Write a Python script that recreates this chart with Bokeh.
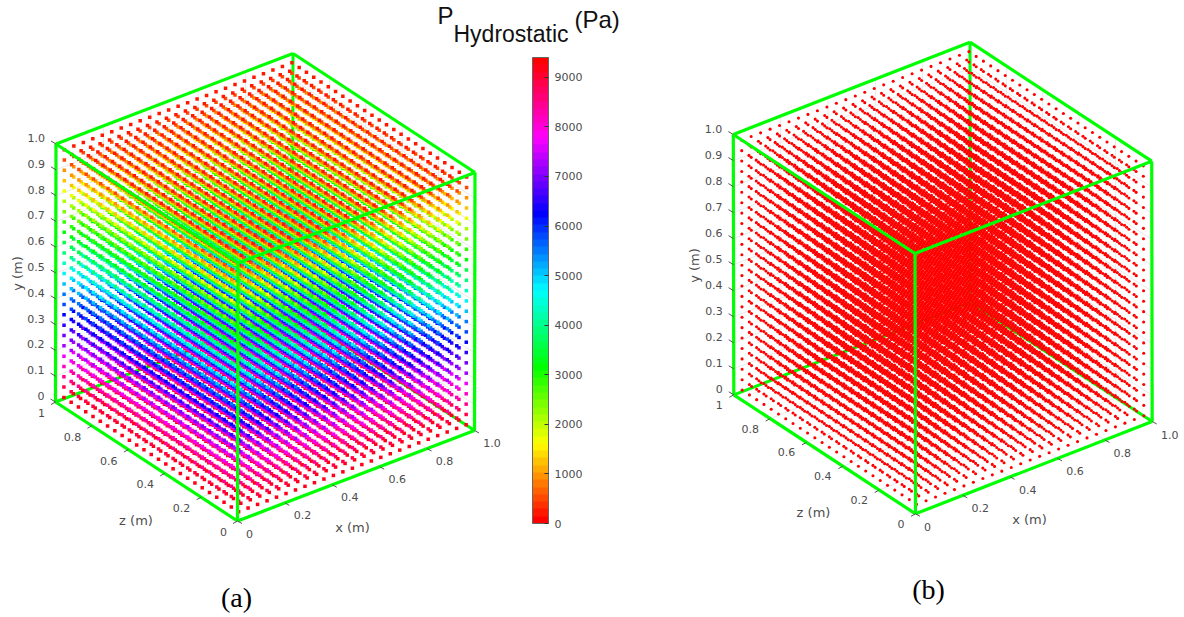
import colorsys
import numpy as np
from bokeh.plotting import figure, ColumnDataSource
from bokeh.models import Range1d, ColorBar, LinearColorMapper, FixedTicker
from bokeh.core.properties import value
from bokeh.embed import file_html
from bokeh.resources import INLINE

# ---- data ----
x_levels = [0.02, 0.06, 0.10, 0.14, 0.18, 0.22, 0.26, 0.30, 0.34, 0.38, 0.42, 0.46, 0.50,
            0.54, 0.58, 0.62, 0.66, 0.70, 0.74, 0.78, 0.82, 0.86, 0.90, 0.94, 0.98]
y_levels = [0.02, 0.06, 0.10, 0.14, 0.18, 0.22, 0.26, 0.30, 0.34, 0.38, 0.42, 0.46, 0.50,
            0.54, 0.58, 0.62, 0.66, 0.70, 0.74, 0.78, 0.82, 0.86, 0.90, 0.94, 0.98]
z_levels = [0.02, 0.06, 0.10, 0.14, 0.18, 0.22, 0.26, 0.30, 0.34, 0.38, 0.42, 0.46, 0.50,
            0.54, 0.58, 0.62, 0.66, 0.70, 0.74, 0.78, 0.82, 0.86, 0.90, 0.94, 0.98]
# pressure of each y level, panel (a)
pressure_a = [9212, 8836, 8460, 8084, 7708, 7332, 6956, 6580, 6204, 5828, 5452, 5076, 4700,
              4324, 3948, 3572, 3196, 2820, 2444, 2068, 1692, 1316, 940, 564, 188]
# panel (b) reads as a single colour: the bottom of the scale
pressure_b = [0, 0, 0, 0, 0, 0, 0, 0, 0, 0, 0, 0, 0,
              0, 0, 0, 0, 0, 0, 0, 0, 0, 0, 0, 0]
x_ticks = [0, 0.2, 0.4, 0.6, 0.8, 1.0]
x_tick_labels = ["0", "0.2", "0.4", "0.6", "0.8", "1.0"]
y_ticks = [0, 0.1, 0.2, 0.3, 0.4, 0.5, 0.6, 0.7, 0.8, 0.9, 1.0]
y_tick_labels = ["0", "0.1", "0.2", "0.3", "0.4", "0.5", "0.6", "0.7", "0.8", "0.9", "1.0"]
z_ticks = [0, 0.2, 0.4, 0.6, 0.8, 1.0]
z_tick_labels = ["0", "0.2", "0.4", "0.6", "0.8", "1"]
cbar_ticks = [0, 1000, 2000, 3000, 4000, 5000, 6000, 7000, 8000, 9000]
cbar_low = 0
cbar_high = 9400

# ---- styles ----
GREEN = "#00ff00"
TICK = "#555555"
LABEL = "#4d4d4d"
GRID = "#e9e9e9"
SANS = value("DejaVu Sans")
palette = []
for i in range(64):
    r, g, b = colorsys.hsv_to_rgb(i / 63, 1, 1)
    palette.append("#%02x%02x%02x" % (round(r * 255), round(g * 255), round(b * 255)))
mapper = LinearColorMapper(palette=palette, low=cbar_low, high=cbar_high)

# the figure's data units are page pixels, so the oblique view maps straight to it
p = figure(width=1184, height=617, output_backend="svg", toolbar_location=None,
           x_range=Range1d(0, 1184), y_range=Range1d(617, 0),
           x_axis_type=None, y_axis_type=None, min_border=0,
           outline_line_color=None, background_fill_color="white")
p.grid.visible = False


def cube(view, pressure, dot_size, dot_marker, y_label_xy, z_label_xy, x_label_xy,
         z_off, x_off):
    ox, oy = view["o"]
    ex, ey, ez = view["x"], view["y"], view["z"]

    def pr(a, b, c):
        a, b, c = np.asarray(a, float), np.asarray(b, float), np.asarray(c, float)
        return ox + a * ex[0] + b * ey[0] + c * ez[0], oy + a * ex[1] + b * ey[1] + c * ez[1]

    def edge(a0, b0, c0, a1, b1, c1, **kw):
        xs, ys = pr([a0, a1], [b0, b1], [c0, c1])
        p.line(list(xs), list(ys), **kw)

    # faint grid on the three back walls
    for t in x_ticks:
        edge(t, 0, 1, t, 1, 1, line_color=GRID, line_width=1)
        edge(t, 0, 0, t, 0, 1, line_color=GRID, line_width=1)
    for t in z_ticks:
        edge(1, 0, t, 1, 1, t, line_color=GRID, line_width=1)
        edge(0, 0, t, 1, 0, t, line_color=GRID, line_width=1)
    for t in y_ticks:
        edge(0, t, 1, 1, t, 1, line_color=GRID, line_width=1)
        edge(1, t, 0, 1, t, 1, line_color=GRID, line_width=1)

    # hidden box edges go beneath the points
    back = dict(line_color=GREEN, line_width=3)
    edge(0, 0, 1, 1, 0, 1, **back)
    edge(1, 0, 1, 1, 0, 0, **back)
    edge(1, 0, 1, 1, 1, 1, **back)

    # points, far ones first
    X, Y, Z = np.meshgrid(x_levels, y_levels, z_levels, indexing="ij")
    P = np.broadcast_to(np.asarray(pressure, float)[None, :, None], X.shape)
    X, Y, Z, P = X.ravel(), Y.ravel(), Z.ravel(), P.ravel()
    order = np.argsort(-0.528 * X + 0.5 * Y - 0.691 * Z, kind="stable")
    sx, sy = pr(X[order], Y[order], Z[order])
    src = ColumnDataSource(dict(sx=sx, sy=sy, p=P[order]))
    p.scatter("sx", "sy", source=src, marker=dot_marker, size=dot_size, line_color=None,
              fill_color={"field": "p", "transform": mapper})

    # visible box edges
    front = dict(line_color=GREEN, line_width=3.2)
    for e in [(0, 0, 0, 1, 0, 0), (0, 0, 0, 0, 0, 1), (0, 0, 0, 0, 1, 0),
              (1, 0, 0, 1, 1, 0), (0, 0, 1, 0, 1, 1),
              (0, 1, 0, 1, 1, 0), (0, 1, 0, 0, 1, 1), (1, 1, 0, 1, 1, 1), (0, 1, 1, 1, 1, 1)]:
        edge(*e, **front)

    # ticks
    def ticks(xs, ys, dx, dy):
        p.segment(list(xs), list(ys), list(xs + dx), list(ys + dy), line_color=TICK, line_width=1)

    ticks(*pr(np.zeros(len(y_ticks)), y_ticks, np.ones(len(y_ticks))), -5, -3)
    ticks(*pr(np.zeros(len(z_ticks)), np.zeros(len(z_ticks)), z_ticks), -4.5, 2.5)
    ticks(*pr(x_ticks, np.zeros(len(x_ticks)), np.zeros(len(x_ticks))), 4.5, 2.5)

    lab = dict(text_font=SANS, text_font_size="11px", text_color=LABEL)
    # y tick labels
    xs, ys = pr(np.zeros(len(y_ticks)), y_ticks, np.ones(len(y_ticks)))
    p.text(list(xs - 11), list(ys - 6), text=y_tick_labels, text_align="right",
           text_baseline="middle", **lab)
    # z tick labels
    xs, ys = pr(np.zeros(len(z_ticks)), np.zeros(len(z_ticks)), z_ticks)
    shift = np.array([5.5 if len(s) == 1 else 0 for s in z_tick_labels])
    p.text(list(xs + z_off[0] + shift), list(ys + z_off[1]), text=z_tick_labels,
           text_align="center", text_baseline="middle", **lab)
    # x tick labels
    xs, ys = pr(x_ticks, np.zeros(len(x_ticks)), np.zeros(len(x_ticks)))
    shift = np.array([-5.5 if s == "0" else 0 for s in x_tick_labels])
    p.text(list(xs + x_off[0] + shift), list(ys + x_off[1]), text=x_tick_labels,
           text_align="center", text_baseline="middle", **lab)

    ax = dict(text_font=SANS, text_font_size="13px", text_color=LABEL,
              text_align="center", text_baseline="middle")
    p.text([y_label_xy[0]], [y_label_xy[1]], text=["y (m)"], angle=np.pi / 2, **ax)
    p.text([z_label_xy[0]], [z_label_xy[1]], text=["z (m)"], **ax)
    p.text([x_label_xy[0]], [x_label_xy[1]], text=["x (m)"], **ax)


view_a = dict(o=(237, 520.5), x=(237, -90.5), y=(0.5, -258), z=(-182, -119))
view_b = dict(o=(915, 513.3), x=(236.7, -92.3), y=(-0.5, -260.3), z=(-181.7, -119))

cube(view_a, pressure_a, 3.5, "square", (17, 273), (135.5, 520), (352, 527), (-19.5, 11), (17.5, 12.5))
cube(view_b, pressure_b, 3.1, "circle", (694, 265), (813, 512), (1029, 519), (-20, 10), (17.5, 13))

# colour bar
bar = ColorBar(color_mapper=mapper, ticker=FixedTicker(ticks=cbar_ticks),
               location=(532, 94), width=16, height=466, padding=0, margin=0,
               major_label_text_font="DejaVu Sans", major_label_text_font_size="11px",
               major_label_text_color=LABEL, major_tick_in=4, major_tick_out=0,
               major_tick_line_color="#333333", minor_tick_line_color=None,
               bar_line_color="#666666", bar_line_width=1, label_standoff=6,
               border_line_color=None, background_fill_color=None)
p.add_layout(bar, "center")

# headings
head = dict(text_font=value("Liberation Sans"), text_color="#111111", text_baseline="middle")
p.text([437], [15], text=["P"], text_font_size="24px", **head)
p.text([453], [33], text=["Hydrostatic"], text_font_size="23px", **head)
p.text([574], [19], text=["(Pa)"], text_font_size="24px", **head)

serif = dict(text_font=value("Liberation Serif"), text_color="#000000", text_font_size="28px",
             text_align="center", text_baseline="middle")
p.text([236], [597], text=["(a)"], **serif)
p.text([928], [589], text=["(b)"], **serif)

open("out.html", "w").write(file_html(p, INLINE))
